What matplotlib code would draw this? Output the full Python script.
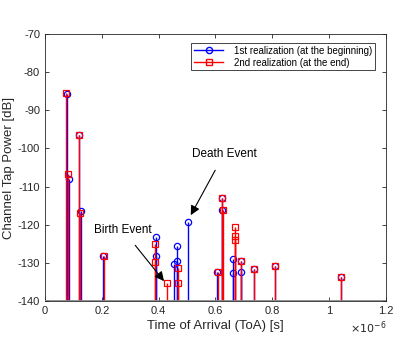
import matplotlib.pyplot as plt
from matplotlib.lines import Line2D
from matplotlib.legend_handler import HandlerLine2D
from matplotlib.ticker import FuncFormatter

plt.rcParams['font.family'] = ['Liberation Sans', 'DejaVu Sans']

# ToA in units of 1e-6 s, power in dB
toa_1st = [0.076, 0.084, 0.121, 0.128, 0.203, 0.389, 0.392, 0.454, 0.464, 0.464,
           0.505, 0.607, 0.622, 0.622, 0.660, 0.660, 0.689, 0.689, 0.735, 0.809, 1.041]
pow_1st = [-85.6, -108.0, -96.5, -116.5, -128.2, -123.3, -128.1, -130.4, -125.5, -129.5,
           -119.2, -132.5, -113.0, -116.2, -129.0, -132.6, -129.5, -132.4, -131.5, -130.9, -133.7]

toa_2nd = [0.073, 0.080, 0.121, 0.123, 0.206, 0.386, 0.388, 0.429, 0.467, 0.469,
           0.610, 0.623, 0.625, 0.669, 0.669, 0.669, 0.690, 0.737, 0.811, 1.042]
pow_2nd = [-85.4, -106.7, -96.5, -116.9, -128.2, -125.0, -129.7, -135.3, -131.3, -135.4,
           -132.4, -113.0, -116.2, -120.6, -123.0, -124.1, -129.5, -131.5, -130.8, -133.7]

labels = ['1st realization (at the beginning)', '2nd realization (at the end)']


# legend entry: line with the marker at its right end (like MATLAB stem)
class EndMarker(HandlerLine2D):
    def get_xdata(self, legend, xdescent, ydescent, width, height, fontsize):
        return [-xdescent, -xdescent + width], [-xdescent + width]


fig = plt.figure(figsize=(4.15, 3.47), dpi=100)
ax = fig.add_axes([0.1084, 0.1326, 0.8216, 0.7694])

for t, p, col, mk in [(toa_1st, pow_1st, 'blue', 'o'), (toa_2nd, pow_2nd, 'red', 's')]:
    m, s, b = ax.stem([v * 1e-6 for v in t], p, bottom=-140)
    plt.setp(s, color=col, linewidth=1.0)
    plt.setp(m, marker=mk, markersize=4.5, markerfacecolor='none',
             markeredgecolor=col, markeredgewidth=0.9)
    b.set_visible(False)
ax.axhline(-140, color='#888888', linewidth=2, zorder=3)

ax.set_xlim(0, 1.2e-6)
ax.set_ylim(-140, -70)
ax.set_xticks([i * 0.2e-6 for i in range(7)])
ax.set_yticks(range(-140, -69, 10))
ax.xaxis.set_major_formatter(FuncFormatter(lambda v, _: f'{v * 1e6:g}'))
ax.yaxis.set_major_formatter(FuncFormatter(lambda v, _: f'{v:g}'))
ax.tick_params(direction='in', top=True, right=True, labelsize=8,
               colors='#262626', length=3, width=0.6)
for sp in ax.spines.values():
    sp.set_color('#262626')
    sp.set_linewidth(0.6)

ax.set_xlabel('Time of Arrival (ToA) [s]', fontsize=9.5, color='#262626', labelpad=3)
ax.set_ylabel('Channel Tap Power [dB]', fontsize=9.5, color='#262626', labelpad=2)
ax.text(1.003, -0.1, r'$\times10^{-6}$', transform=ax.transAxes, ha='right', va='center',
        fontsize=8, color='#262626')

ax.annotate('Death Event', xy=(0.513e-6, -117.5), xytext=(0.516e-6, -101.5),
            fontsize=8.5, va='center', ha='left',
            arrowprops=dict(arrowstyle='-|>', color='black', lw=0.8,
                            shrinkA=6, shrinkB=0, mutation_scale=14),
            )
ax.annotate('Birth Event', xy=(0.419e-6, -134.8), xytext=(0.173e-6, -121.4),
            fontsize=8.5, va='center', ha='left',
            arrowprops=dict(arrowstyle='-|>', color='black', lw=0.8,
                            shrinkA=6, shrinkB=0, mutation_scale=14),
            )

handles = [Line2D([], [], color='blue', lw=1.0, marker='o',
                  markersize=4.5, markerfacecolor='none'),
           Line2D([], [], color='red', lw=1.0, marker='s',
                  markersize=4.5, markerfacecolor='none')]
leg = ax.legend(handles, labels, loc='upper right',
                handler_map={Line2D: EndMarker()},
                bbox_to_anchor=(375 / 415, 1 - 42.7 / 347), bbox_transform=fig.transFigure,
                borderaxespad=0, fontsize=7, fancybox=False, framealpha=1,
                handlelength=3.0, handletextpad=1.1, borderpad=0.3, labelspacing=0.2)
leg.get_frame().set_edgecolor('#262626')
leg.get_frame().set_linewidth(0.6)

fig.savefig('out.png', dpi=100)
